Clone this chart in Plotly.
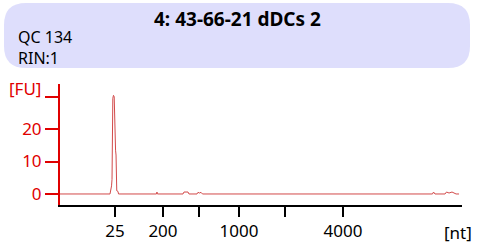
import plotly.graph_objects as go

# Electropherogram: migration time (s) vs fluorescence (FU)
time_s = [19.0, 25.22, 25.41, 25.47, 25.57, 25.65, 25.74, 25.82, 25.91, 25.97, 26.06, 26.21, 26.28,
          31.0, 31.06, 31.12, 34.30, 34.42, 34.92, 35.04, 36.04, 36.16, 36.35, 36.54, 36.72,
          65.33, 65.46, 65.64, 66.89, 67.07, 67.39, 67.76, 68.07, 68.26, 68.63]
fu = [0, 0, 2.5, 4.5, 29.5, 30.4, 30.0, 16, 13.5, 12, 1.0, 0.8, 0,
      0, 0.6, 0, 0, 0.6, 0.6, 0, 0, 0.5, 0.3, 0.5, 0,
      0, 0.6, 0, 0, 0.6, 0.3, 0.6, 0.2, 0, 0]

# Ladder positions (s) and labels (nt)
ladder_time = [25.84, 31.81, 36.29, 41.26, 46.99, 54.20]
ladder_text = ["25", "200", "", "1000", "", "4000"]

y_ticks = [0, 10, 20, 30]
y_text = ["0", "10", "20", ""]

title = "4: 43-66-21 dDCs 2"
sub1 = "QC 134"
sub2 = "RIN:1"

RED = "#e00000"
FONT = "Noto Sans"

fig = go.Figure()
fig.add_trace(go.Scatter(x=time_s, y=fu, mode="lines",
                         line=dict(color="#d24a4a", width=1), hoverinfo="skip"))

W, H = 477, 248
L, R, T, B = 60, 15, 84, 43
pw, ph = W - L - R, H - T - B

def px(x):
    return (x - L) / pw

def py(y):
    return (H - B - y) / ph

# rounded box
x0, x1, y0, y1 = px(4), px(470), py(68), py(3)
rx, ry = 22 / pw, 22 / ph
path = (f"M {x0+rx},{y1} L {x1-rx},{y1} Q {x1},{y1} {x1},{y1-ry} "
        f"L {x1},{y0+ry} Q {x1},{y0} {x1-rx},{y0} L {x0+rx},{y0} "
        f"Q {x0},{y0} {x0},{y0+ry} L {x0},{y1-ry} Q {x0},{y1} {x0+rx},{y1} Z")

fig.update_layout(
    width=W, height=H,
    margin=dict(l=L, r=R, t=T, b=B, autoexpand=False),
    paper_bgcolor="white", plot_bgcolor="white",
    showlegend=False,
    font=dict(family=FONT, size=17),
    shapes=[dict(type="path", path=path, xref="paper", yref="paper",
                 fillcolor="#dedefc", line=dict(width=0), layer="below")],
    xaxis=dict(range=[19, 69], tickmode="array", tickvals=ladder_time, ticktext=ladder_text,
               showgrid=False, zeroline=False, showline=True, linecolor="black", linewidth=2,
               ticks="outside", ticklen=10, tickwidth=2, tickcolor="black",
               tickfont=dict(color="black", size=17, family=FONT)),
    yaxis=dict(range=[-3.4, 33.9], tickmode="array", tickvals=y_ticks, ticktext=y_text,
               showgrid=False, zeroline=False, showline=True, linecolor=RED, linewidth=2,
               ticks="outside", ticklen=13, tickwidth=2, tickcolor=RED,
               tickfont=dict(color=RED, size=17, family=FONT)),
    annotations=[
        dict(text=f"<b>{title}</b>", x=px(237), y=py(19), xref="paper", yref="paper",
             showarrow=False, xanchor="center", yanchor="middle",
             font=dict(size=19, color="black", family=FONT)),
        dict(text=f"{sub1}<br>{sub2}", x=px(16), y=py(47.5), xref="paper", yref="paper",
             showarrow=False, xanchor="left", yanchor="middle", align="left",
             font=dict(size=16, color="black", family=FONT)),
        dict(text="[FU]", x=px(43), y=py(88), xref="paper", yref="paper",
             showarrow=False, xanchor="right", yanchor="middle",
             font=dict(size=17, color=RED, family=FONT)),
        dict(text="[nt]", x=px(474), y=py(232), xref="paper", yref="paper",
             showarrow=False, xanchor="right", yanchor="middle",
             font=dict(size=17, color="black", family=FONT)),
    ],
)

fig.write_html("out.html", config={"displayModeBar": False},
               post_script="document.body.style.margin='0';")
